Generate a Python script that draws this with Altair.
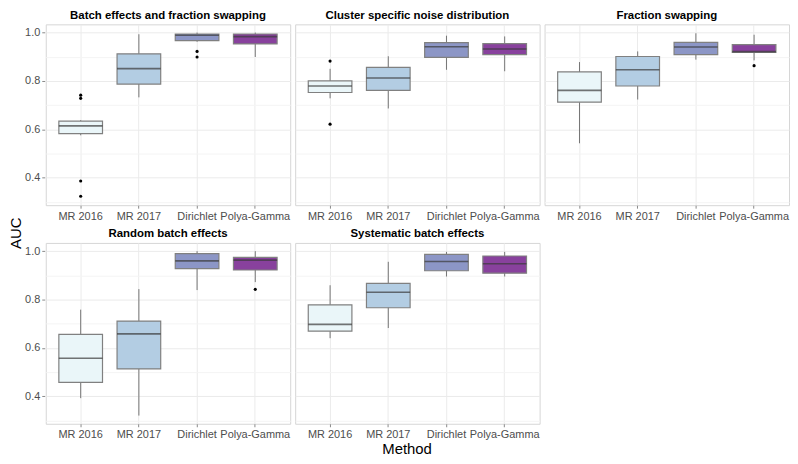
import altair as alt
import pandas as pd

panels = ["Batch effects and fraction swapping", "Cluster specific noise distribution",
          "Fraction swapping", "Random batch effects", "Systematic batch effects"]
methods = ["MR 2016", "MR 2017", "Dirichlet", "Polya-Gamma"]
colors = ["#EAF6F9", "#B3CDE3", "#8C96C6", "#88419D"]

# box statistics, one row per panel, one column per method
lower = [
    [0.575, 0.732, 0.962, 0.899],
    [0.728, 0.686, 0.846, 0.840],
    [0.542, 0.723, 0.888, 0.885],
    [0.392, 0.320, 0.839, 0.872],
    [0.640, 0.682, 0.895, 0.895],
]
q1 = [
    [0.582, 0.787, 0.967, 0.953],
    [0.752, 0.761, 0.897, 0.909],
    [0.712, 0.779, 0.909, 0.918],
    [0.457, 0.513, 0.928, 0.922],
    [0.669, 0.766, 0.919, 0.909],
]
median = [
    [0.614, 0.851, 0.989, 0.983],
    [0.779, 0.812, 0.941, 0.932],
    [0.761, 0.846, 0.940, 0.921],
    [0.557, 0.658, 0.960, 0.963],
    [0.697, 0.830, 0.957, 0.948],
]
q3 = [
    [0.634, 0.912, 0.994, 0.994],
    [0.800, 0.856, 0.958, 0.954],
    [0.837, 0.901, 0.959, 0.950],
    [0.656, 0.711, 0.990, 0.974],
    [0.778, 0.867, 0.987, 0.980],
]
upper = [
    [0.638, 0.993, 1.000, 1.000],
    [0.850, 0.902, 0.987, 0.984],
    [0.878, 0.922, 0.997, 0.991],
    [0.758, 0.843, 1.000, 1.000],
    [0.859, 0.956, 0.997, 0.997],
]
outlier_panel = [0, 0, 0, 0, 0, 0, 1, 1, 2, 3]
outlier_method = [0, 0, 0, 0, 2, 2, 0, 0, 3, 3]
outlier_value = [0.741, 0.728, 0.386, 0.323, 0.922, 0.899, 0.882, 0.621, 0.863, 0.842]

rows = []
for p, pname in enumerate(panels):
    for m, mname in enumerate(methods):
        rows.append(dict(kind="box", panel=pname, method=mname, lower=lower[p][m], q1=q1[p][m],
                         median=median[p][m], q3=q3[p][m], upper=upper[p][m]))
for p, m, v in zip(outlier_panel, outlier_method, outlier_value):
    rows.append(dict(kind="out", panel=panels[p], method=methods[m], value=v))
df = pd.DataFrame(rows)

FONT = "Liberation Sans"
W, H = 246, 182

xenc = alt.X("method:N", sort=methods,
             scale=alt.Scale(paddingInner=0, paddingOuter=0.1),
             axis=alt.Axis(title=None, labelAngle=0, grid=True, bandPosition=0.5,
                           labelFontSize=11, labelColor="#4D4D4D", labelFont=FONT,
                           tickSize=3, tickColor="#888888", domain=False,
                           gridColor="#EBEBEB", labelPadding=2))
yscale = alt.Scale(domain=[0.286, 1.034], nice=False, zero=False)
yaxis = alt.Axis(title=None, values=[0.3, 0.4, 0.5, 0.6, 0.7, 0.8, 0.9, 1.0],
                 labelExpr="round(datum.value*10) % 2 == 0 ? format(datum.value, '.1f') : ''",
                 labelFontSize=11, labelColor="#4D4D4D", labelFont=FONT,
                 tickSize=3, domain=False, labelPadding=2,
                 tickColor={"condition": {"test": "round(datum.value*10) % 2 == 1", "value": "transparent"},
                            "value": "#888888"},
                 gridColor={"condition": {"test": "round(datum.value*10) % 2 == 1", "value": "#F4F4F4"},
                            "value": "#EBEBEB"})

base = alt.Chart()
boxes = base.transform_filter("datum.kind == 'box'")

whisk = boxes.mark_rule(color="#666666", strokeWidth=0.9).encode(
    x=xenc, y=alt.Y("lower:Q", scale=yscale, axis=yaxis), y2="upper:Q")
box = boxes.mark_bar(width=alt.RelativeBandSize(0.75), stroke="#808080", strokeWidth=1.2).encode(
    x=xenc, y=alt.Y("q1:Q", scale=yscale, axis=yaxis), y2="q3:Q",
    color=alt.Color("method:N", scale=alt.Scale(domain=methods, range=colors), legend=None))
med = boxes.mark_tick(size=44, thickness=1.6, color="#3A3A3A").encode(
    x=xenc, y=alt.Y("median:Q", scale=yscale, axis=yaxis))
outl = base.transform_filter("datum.kind == 'out'").mark_circle(size=10, color="black", opacity=1).encode(
    x=xenc, y=alt.Y("value:Q", scale=yscale, axis=yaxis))

layered = alt.layer(whisk, box, med, outl).properties(width=W, height=H)

fac = layered.facet(
    facet=alt.Facet("panel:N", sort=panels,
                    header=alt.Header(title=None, labelFontWeight="bold", labelFontSize=11.5,
                                      labelFont=FONT, labelColor="black", labelPadding=3)),
    columns=3, spacing={"row": 6, "column": 3}, data=df,
).resolve_axis(x="independent").properties(
    title=alt.TitleParams("Method", orient="bottom", anchor="middle", fontSize=15,
                          font=FONT, fontWeight="normal", color="black", offset=2))

chart = alt.hconcat(fac).properties(
    title=alt.TitleParams("AUC", orient="left", anchor="middle", fontSize=15, font=FONT,
                          fontWeight="normal", color="black", offset=1),
    padding=0,
).configure_view(stroke="#D6D6D6", strokeWidth=1)

chart.save("out.html", embed_options={"renderer": "svg", "actions": False})
